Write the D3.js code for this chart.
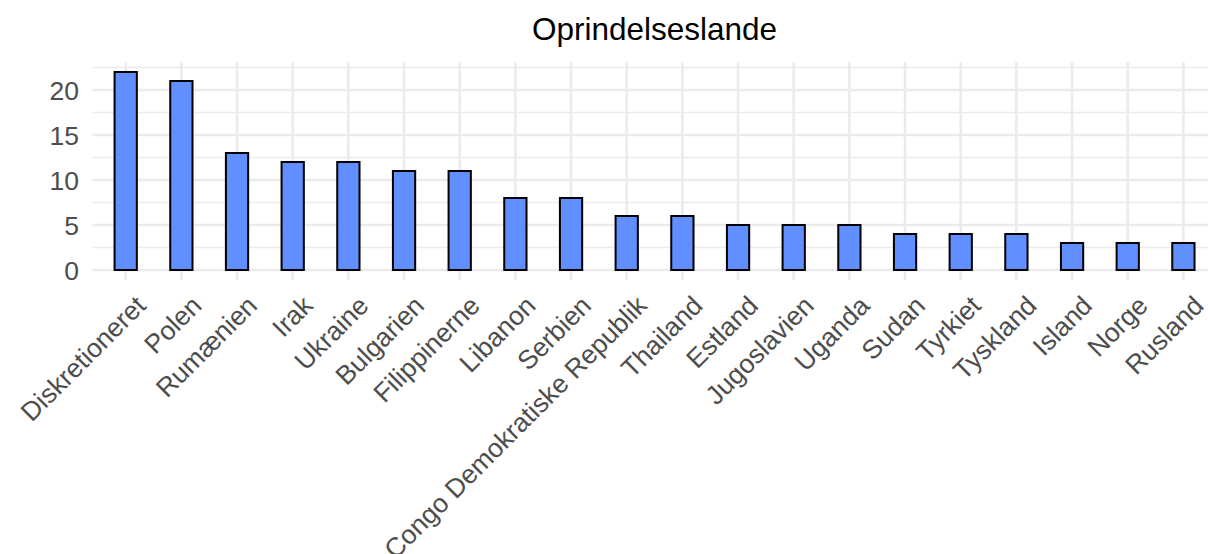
<!DOCTYPE html>
<html>
<head>
<meta charset="utf-8">
<script src="https://cdn.jsdelivr.net/npm/d3@7"></script>
<style>
  html, body { margin: 0; padding: 0; background: #ffffff; }
  svg { display: block; font-family: "Liberation Sans", Arial, sans-serif; }
</style>
</head>
<body>
<svg id="chart" width="1208" height="554"></svg>
<script>
// Countries of origin and their counts
const countries = [
  "Diskretioneret", "Polen", "Rumænien", "Irak", "Ukraine", "Bulgarien",
  "Filippinerne", "Libanon", "Serbien", "Congo Demokratiske Republik",
  "Thailand", "Estland", "Jugoslavien", "Uganda", "Sudan", "Tyrkiet",
  "Tyskland", "Island", "Norge", "Rusland"
];
const counts = [22, 21, 13, 12, 12, 11, 11, 8, 8, 6, 6, 5, 5, 5, 4, 4, 4, 3, 3, 3];
const yTicks = [0, 5, 10, 15, 20];
const yMinor = [2.5, 7.5, 12.5, 17.5, 22.5];
const chartTitle = "Oprindelseslande";

const svg = d3.select("#chart");
const panel = { left: 92.3, right: 1216.8, top: 62.1, bottom: 279.9 };
const axisFont = 26.5;

const x = d3.scalePoint()
  .domain(countries)
  .range([panel.left, panel.right])
  .padding(0.6);

const y = d3.scaleLinear()
  .domain([-1.1, 23.1])
  .range([panel.bottom, panel.top]);

const barWidth = x.step() * 0.4;
const gridColor = "#EBEBEB";

// Minor horizontal grid
svg.append("g").selectAll("line")
  .data(yMinor).join("line")
  .attr("x1", panel.left).attr("x2", panel.right)
  .attr("y1", d => y(d)).attr("y2", d => y(d))
  .attr("stroke", gridColor).attr("stroke-width", 1.6);

// Major horizontal grid
svg.append("g").selectAll("line")
  .data(yTicks).join("line")
  .attr("x1", panel.left).attr("x2", panel.right)
  .attr("y1", d => y(d)).attr("y2", d => y(d))
  .attr("stroke", gridColor).attr("stroke-width", 2.6);

// Major vertical grid
svg.append("g").selectAll("line")
  .data(countries).join("line")
  .attr("x1", d => x(d)).attr("x2", d => x(d))
  .attr("y1", panel.top).attr("y2", panel.bottom)
  .attr("stroke", gridColor).attr("stroke-width", 2.6);

// Bars
svg.append("g").selectAll("rect")
  .data(countries.map((c, i) => ({ c, v: counts[i] })))
  .join("rect")
  .attr("x", d => x(d.c) - barWidth / 2)
  .attr("width", barWidth)
  .attr("y", d => y(d.v))
  .attr("height", d => y(0) - y(d.v))
  .attr("fill", "#618FFF")
  .attr("stroke", "#000000")
  .attr("stroke-width", 2);

// Y axis labels
const yAxis = d3.axisLeft(y).tickValues(yTicks).tickSize(0).tickPadding(0);
const gy = svg.append("g").attr("transform", "translate(79,0)").call(yAxis);
gy.select(".domain").remove();
gy.selectAll("text")
  .attr("fill", "#4D4D4D")
  .attr("font-size", axisFont)
  .attr("font-family", "Liberation Sans, Arial, sans-serif")
  .attr("dy", "0.36em");

// X axis labels, rotated 45 degrees and right-aligned to the tick
const xAxis = d3.axisBottom(x).tickSize(0).tickPadding(0);
const gx = svg.append("g").attr("transform", "translate(0,286)").call(xAxis);
gx.select(".domain").remove();
gx.selectAll("text")
  .attr("fill", "#4D4D4D")
  .attr("font-size", axisFont)
  .attr("font-family", "Liberation Sans, Arial, sans-serif")
  .attr("text-anchor", "end")
  .attr("y", 0)
  .attr("dy", 30)
  .attr("transform", "rotate(-45)");

// Title
svg.append("text")
  .attr("x", (panel.left + panel.right) / 2)
  .attr("y", 40)
  .attr("text-anchor", "middle")
  .attr("font-size", 31.5)
  .attr("fill", "#000000")
  .text(chartTitle);
</script>
</body>
</html>
